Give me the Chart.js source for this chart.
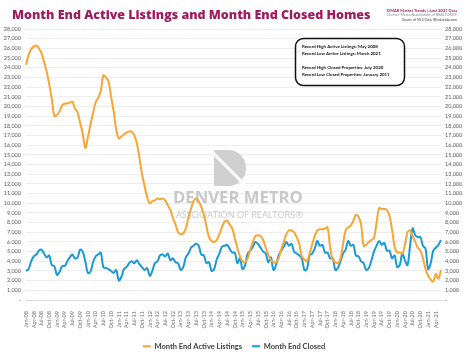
<!DOCTYPE html>
<html><head><meta charset="utf-8">
<script src="https://cdn.jsdelivr.net/npm/chart.js@4/dist/chart.umd.min.js"></script>
<style>html,body{margin:0;padding:0;background:#fff}#wrap{width:468px;height:354px}</style>
</head><body><div id="wrap"><canvas id="c" width="468" height="354"></canvas></div>
<script>
// ---- DATA ----
const monthNames = ['Jan','Feb','Mar','Apr','May','Jun','Jul','Aug','Sep','Oct','Nov','Dec'];
const years = ['08','09','10','11','12','13','14','15','16','17','18','19','20','21'];
const categories = [];
years.forEach(y => monthNames.forEach(m => { if (categories.length < 162) categories.push(m + '-' + y); }));

const activeListings = [
  24300,25300,25900,26200,26300,26000,25500,24600,23600,22300,20800,19000,
  19100,19500,20100,20300,20300,20400,20500,19800,19400,18300,17200,15700,
  16800,18100,19300,20400,20900,21600,23200,23000,22600,21000,19500,17600,
  16700,16900,17100,17300,17400,17400,17000,16200,14700,13000,11800,10600,
  10000,10200,10300,10500,10400,10500,10300,9800,9300,8500,7800,7000,
  6800,6900,7400,8500,9400,10200,10500,10200,9600,8800,7600,6500,
  6100,6000,6200,6800,7500,8100,8200,7800,7400,6400,5400,4500,
  4000,3900,4300,5200,6000,6600,6700,6600,6200,5400,4700,4100,
  3900,3900,4300,5200,6000,6800,7200,7200,7000,6500,5800,4500,
  4200,4000,4800,5700,6600,7200,7300,7300,7400,7500,5400,4200,
  3900,3800,4300,5800,7200,7500,7700,8200,8800,8600,7800,5600,
  5700,6000,6200,6400,8000,9500,9400,9400,9300,8700,7300,5500,
  4900,4900,4800,5700,7000,7200,6600,6000,5400,5100,4300,3200,
  2500,2100,1900,2700,2200,3100
];
const closedHomes = [
  3000,3200,4000,4500,4700,5100,5200,4800,4400,4600,3600,3500,
  2600,2900,3500,3500,4000,4400,4700,4300,4400,5200,5000,4000,
  2800,2900,3900,4500,4700,4900,3400,3300,3200,3000,2800,3100,
  2000,2400,3200,3400,3800,4000,3800,4100,3700,3400,3100,3300,
  2500,3000,3800,4000,4600,4700,4500,4800,4100,4300,3900,3800,
  3100,3400,4400,4800,5400,5600,5800,5600,4700,4600,3800,3900,
  3000,3200,4200,4800,5500,5600,5700,5300,4900,4900,3800,4300,
  3200,3600,4800,5100,5500,6000,5800,5400,5000,4800,3900,4400,
  3100,3600,4600,5100,5500,6000,5600,5800,5000,4800,4600,4300,
  3100,3200,4600,4800,5300,6100,5600,5700,4900,4900,4300,4300,
  3100,3300,4000,4800,5200,6100,5600,5700,4600,4500,4000,3800,
  3100,3300,4100,5000,5600,6100,5700,5900,5100,5100,4300,4600,
  3400,3600,4800,4100,3600,5600,7400,6700,6500,6500,5600,5300,
  3200,3800,5100,5400,5700,6200
];
const yTickMin = 0, yTickMax = 28000, yTickStep = 1000;
const titleText = 'Month End Active Listings and Month End Closed Homes';
const headerLines = ['DMAR Market Trends | June 2021 Data','Denver Metro Association of REALTORS®','Source of MLS Data: REcolorado.com'];
const noteLines = ['Record High Active Listings: May 2008','Record Low Active Listings: March 2021','','Record High Closed Properties: July 2020','Record Low Closed Properties: January 2011'];
const seriesNames = ['Month End Active Listings','Month End Closed'];

// ---- HELPERS ----
function fitFont(ctx, text, weight, family, width){
  ctx.font = weight + ' 100px ' + family;
  const w = ctx.measureText(text).width;
  return 100 * width / w;
}
function drawFit(ctx, text, x, y, width, weight, family, color, align){
  const s = fitFont(ctx, text, weight, family, width);
  ctx.font = weight + ' ' + s + 'px ' + family;
  ctx.fillStyle = color; ctx.textAlign = align || 'left'; ctx.textBaseline = 'alphabetic';
  ctx.fillText(text, x, y);
}

const overlay = {
  id: 'overlay',
  beforeDatasetsDraw(chart){
    const ctx = chart.ctx; ctx.save();
    // watermark logo: stylised "D"
    ctx.fillStyle = '#cfcfcf';
    ctx.beginPath();
    ctx.moveTo(214,150); ctx.lineTo(228,150);
    ctx.arc(228,168,18,-Math.PI/2,Math.PI/2); ctx.lineTo(214,186); ctx.closePath(); ctx.fill();
    ctx.strokeStyle = '#ffffff'; ctx.lineWidth = 3;
    ctx.beginPath(); ctx.moveTo(212,152); ctx.lineTo(244,184); ctx.stroke();
    drawFit(ctx, 'DENVER METRO', 173, 203, 130, 'bold', '"Open Sans"', '#c8c8c8');
    drawFit(ctx, 'ASSOCIATION OF REALTORS®', 176, 218, 127, 'normal', '"Open Sans"', '#c8c8c8');
    ctx.restore();
  },
  afterDraw(chart){
    const ctx = chart.ctx; ctx.save();
    drawFit(ctx, titleText, 12, 18.5, 359, '800', '"Open Sans"', '#A01C5E');
    drawFit(ctx, headerLines[0], 457, 11.5, 70, 'bold', 'Lato', '#A01C5E', 'right');
    drawFit(ctx, headerLines[1], 457, 16, 70, 'normal', 'Lato', '#8a8a8a', 'right');
    drawFit(ctx, headerLines[2], 457, 20.5, 55, 'normal', 'Lato', '#444444', 'right');
    ctx.strokeStyle = '#111'; ctx.lineWidth = 1.5;
    ctx.beginPath(); ctx.roundRect(295.5, 38.5, 109, 47, 8); ctx.fillStyle='#fff'; ctx.fill(); ctx.stroke();
    const ys = [48, 55.3, 0, 68.7, 75.5];
    const fs = fitFont(ctx, noteLines[0], 'bold', 'Lato', 76);
    ctx.font = 'bold ' + fs + 'px Lato'; ctx.fillStyle = '#111'; ctx.textAlign='left';
    noteLines.forEach((t,i)=>{ if(t) ctx.fillText(t, 302, ys[i]); });
    ctx.restore();
  }
};

const tickFont = {family:'Lato', size:5.5};
new Chart(document.getElementById('c'), {
  type: 'line',
  data: {
    labels: categories,
    datasets: [
      {label: seriesNames[0], data: activeListings, borderColor:'#F9A533', backgroundColor:'#F9A533', borderWidth:2, pointRadius:0, tension:0.35, yAxisID:'y'},
      {label: seriesNames[1], data: closedHomes, borderColor:'#1A9AD6', backgroundColor:'#1A9AD6', borderWidth:2, pointRadius:0, tension:0.35, yAxisID:'y'}
    ]
  },
  options: {
    responsive:false, animation:false, devicePixelRatio:1,
    layout:{padding:{top:29,left:0,right:0,bottom:-6}},
    plugins:{
      legend:{position:'bottom', labels:{usePointStyle:true, pointStyle:'line', pointStyleWidth:8, font:{family:'Lato', size:7.5, weight:'bold'}, color:'#404040', padding:10}},
      tooltip:{enabled:false}
    },
    scales:{
      x:{
        grid:{display:false}, border:{color:'#d9d9d9'},
        ticks:{autoSkip:false, minRotation:90, maxRotation:90, font:tickFont, color:'#6a6a6a', padding:3,
          callback(v,i){ return i%3===0 ? this.getLabelForValue(v) : null; }},
        afterFit(s){ s.height = 32.5; }
      },
      y:{
        position:'left', min:yTickMin, max:yTickMax,
        ticks:{autoSkip:false, stepSize:yTickStep, font:tickFont, color:'#595959', padding:5, callback:v=> v===0?'-':v.toLocaleString('en-US')},
        grid:{color:'#e9e9e9', lineWidth:0.8, drawTicks:false}, border:{display:false},
        afterFit(s){ s.width = 26; }
      },
      y2:{
        position:'right', min:yTickMin, max:yTickMax,
        ticks:{autoSkip:false, stepSize:yTickStep, font:tickFont, color:'#595959', padding:4, callback:v=> v===0?'-':v.toLocaleString('en-US')},
        grid:{display:false, drawTicks:false}, border:{display:false},
        afterFit(s){ s.width = 27; }
      }
    }
  },
  plugins:[overlay]
});
</script></body></html>
